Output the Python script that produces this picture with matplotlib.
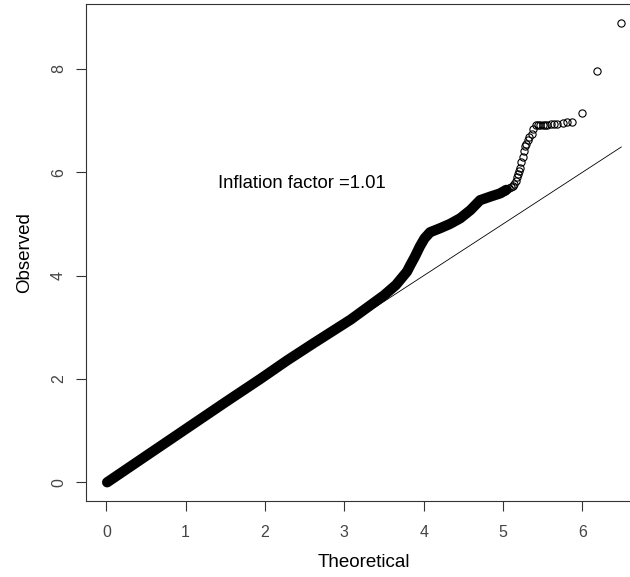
import matplotlib
matplotlib.use("Agg")
import matplotlib.pyplot as plt

# dense part of the QQ curve (theoretical, observed)
dense_theo = [0.01, 0.5, 1.0, 1.5, 1.94, 2.28, 2.6, 3.08, 3.5, 3.65, 3.79,
              3.83, 3.89, 3.95, 4.01, 4.08, 4.21, 4.33, 4.46, 4.59, 4.71,
              4.84, 4.96, 5.04]
dense_obs = [0.0, 0.51, 1.03, 1.55, 2.0, 2.36, 2.68, 3.15, 3.62, 3.82, 4.08,
             4.2, 4.37, 4.56, 4.72, 4.84, 4.92, 5.0, 5.11, 5.27, 5.46,
             5.53, 5.59, 5.66]

# sparse tail, drawn as open circles
tail_theo = [4.98, 5.02, 5.05, 5.08, 5.10, 5.12, 5.14, 5.16, 5.17, 5.19, 5.20,
             5.21, 5.23, 5.25, 5.26, 5.28, 5.29, 5.31, 5.33, 5.36, 5.38,
             5.41, 5.44, 5.47, 5.50, 5.53, 5.56, 5.60, 5.64, 5.68, 5.75,
             5.81, 5.87, 6.00, 6.19, 6.49]
tail_obs = [5.60, 5.64, 5.67, 5.70, 5.72, 5.74, 5.78, 5.84, 5.90, 5.97, 6.03,
            6.09, 6.20, 6.29, 6.42, 6.50, 6.55, 6.62, 6.69, 6.75, 6.83,
            6.91, 6.92, 6.92, 6.92, 6.92, 6.92, 6.93, 6.93, 6.94, 6.95,
            6.98, 6.98, 7.14, 7.96, 8.89]

ref_line = [0, 6.49]
x_ticks = [0, 1, 2, 3, 4, 5, 6]
y_ticks = [0, 2, 4, 6, 8]
annotation = "Inflation factor =1.01"

plt.rcParams['font.family'] = ['Liberation Sans', 'DejaVu Sans']

fig = plt.figure(figsize=(6.3, 5.77), dpi=100)
ax = fig.add_axes([85.7 / 630, (577 - 500.7) / 577, 556.2 / 630, 496.3 / 577])

ax.plot(ref_line, ref_line, color='black', lw=0.6)
ax.plot(dense_theo, dense_obs, color='black', lw=7.4,
        solid_capstyle='round', solid_joinstyle='round')
ax.plot(tail_theo, tail_obs, ls='none', marker='o', ms=5.2,
        mfc='none', mec='black', mew=0.8)

ax.text(1.403, 5.70, annotation, fontsize=13.3, ha='left', va='baseline')

ax.set_xlim(-0.26, 6.75)
ax.set_ylim(-0.356, 9.25)
ax.set_xticks(x_ticks)
ax.set_yticks(y_ticks)

tick_font = {'family': ['Liberation Sans'], 'size': 11.5}
ax.set_xticklabels([str(t) for t in x_ticks], fontdict=tick_font, color='#444444')
ax.set_yticklabels([str(t) for t in y_ticks], fontdict=tick_font, color='#444444',
                   rotation=90, va='center')
ax.tick_params(length=7.2, width=0.8, color='#333333')
ax.tick_params(axis='x', pad=10.5)
ax.tick_params(axis='y', pad=7)

for sp in ax.spines.values():
    sp.set_linewidth(0.8)
    sp.set_color('#333333')

ax.set_xlabel('Theoretical', fontsize=13.5, va='center')
ax.xaxis.set_label_coords(0.5, -0.1255)
ax.set_ylabel('Observed', fontsize=13.5, va='center')
ax.yaxis.set_label_coords(-0.109, 0.5)

fig.savefig('out.png', dpi=100)
